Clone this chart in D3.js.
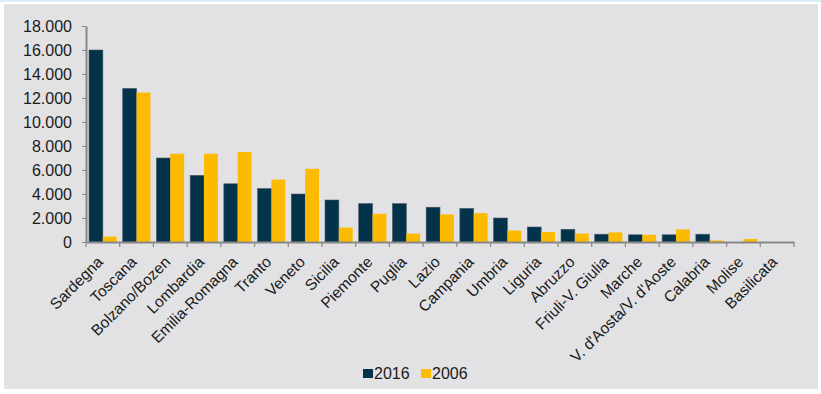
<!DOCTYPE html>
<html>
<head>
<meta charset="utf-8">
<script src="https://cdn.jsdelivr.net/npm/d3@7"></script>
<style>
  body { margin: 0; background: #fff; }
  svg text { font-family: "Liberation Sans", Arial, sans-serif; fill: #1a1a1a; }
</style>
</head>
<body>
<div id="chart"></div>
<script>
// Regions, values
const regions = ["Sardegna", "Toscana", "Bolzano/Bozen", "Lombardia", "Emilia-Romagna", "Tranto",
  "Veneto", "Sicilia", "Piemonte", "Puglia", "Lazio", "Campania", "Umbria", "Liguria", "Abruzzo",
  "Friuli-V. Giulia", "Marche", "V. d'Aosta/V. d'Aoste", "Calabria", "Molise", "Basilicata"];
const v2016 = [16000, 12800, 7000, 5550, 4850, 4450, 4000, 3500, 3200, 3200, 2900, 2800, 2000, 1250, 1060, 650, 600, 600, 650, 0, 0];
const v2006 = [450, 12450, 7350, 7350, 7500, 5200, 6100, 1200, 2350, 700, 2300, 2400, 950, 830, 700, 800, 600, 1050, 130, 250, 0];
const years = ["2016", "2006"];
const yTicks = [0, 2000, 4000, 6000, 8000, 10000, 12000, 14000, 16000, 18000];

const colors = { "2016": "#03324b", "2006": "#fcbb00" };
const W = 821, H = 394;
const margin = { top: 26, left: 86, right: 27, bottom: 152 };
const width = W - margin.left - margin.right,
  height = H - margin.top - margin.bottom;

const svg = d3.select("#chart").append("svg")
  .attr("width", W)
  .attr("height", H);

// panel background
svg.append("rect").attr("x", 0).attr("y", 0).attr("width", W).attr("height", 2).attr("fill", "#d9eef8");
svg.append("rect").attr("x", 4).attr("y", 4).attr("width", 814).attr("height", 385).attr("fill", "#e2e2e4");

const g = svg.append("g").attr("transform", "translate(" + margin.left + "," + margin.top + ")");

const x = d3.scaleBand().domain(regions).range([0, width]).paddingInner(0).paddingOuter(0);
const x1 = d3.scaleBand().domain(years).range([3, x.bandwidth() - 3]).padding(0);
const y = d3.scaleLinear().domain([0, 18000]).range([height, 0]);

const fmt = d => d3.format(",")(d).replace(/,/g, ".");

// bars
const groups = g.selectAll(".grp")
  .data(regions.map((r, i) => ({ name: r, vals: [{ k: "2016", v: v2016[i] }, { k: "2006", v: v2006[i] }] })))
  .enter().append("g")
  .attr("transform", d => "translate(" + x(d.name) + ",0)");

groups.selectAll("rect")
  .data(d => d.vals.filter(e => e.v > 0))
  .enter().append("rect")
  .attr("x", d => x1(d.k))
  .attr("y", d => y(d.v))
  .attr("width", x1.bandwidth())
  .attr("height", d => height - y(d.v))
  .attr("fill", d => colors[d.k])
  .attr("stroke", d => d.k === "2016" ? "#4a5a66" : "none")
  .attr("stroke-width", 0.6);

// y axis
const yAxis = g.append("g")
  .call(d3.axisLeft(y).tickValues(yTicks).tickFormat(fmt).tickSize(4).tickSizeOuter(0));
yAxis.select(".domain").attr("stroke", "#888").attr("stroke-width", 2);
yAxis.selectAll(".tick line").attr("stroke", "#888");
yAxis.selectAll(".tick text").attr("x", -14).style("font-size", "16px");

// x axis
const xAxis = g.append("g")
  .attr("transform", "translate(0," + height + ")")
  .call(d3.axisBottom(x).tickSize(0).tickSizeOuter(0));
xAxis.select(".domain").attr("stroke", "#888").attr("stroke-width", 2);
xAxis.selectAll(".tick text")
  .style("font-size", "15.5px")
  .attr("text-anchor", "end")
  .attr("dy", 0)
  .attr("transform", "translate(1,21) rotate(-45)")
  .attr("y", 0).attr("x", 0);

// ticks at category boundaries
g.append("g").selectAll("line")
  .data(d3.range(regions.length + 1))
  .enter().append("line")
  .attr("x1", i => i * x.bandwidth())
  .attr("x2", i => i * x.bandwidth())
  .attr("y1", height)
  .attr("y2", height + 5)
  .attr("stroke", "#888")
  .attr("stroke-width", 1.2);

// legend
const legend = svg.append("g").attr("transform", "translate(363,369)");
years.forEach((yr, i) => {
  const lg = legend.append("g").attr("transform", "translate(" + (i * 58) + ",0)");
  lg.append("rect").attr("width", 10).attr("height", 9).attr("fill", colors[yr]);
  lg.append("text").attr("x", 11).attr("y", 10).style("font-size", "16px").text(yr);
});
</script>
</body>
</html>
